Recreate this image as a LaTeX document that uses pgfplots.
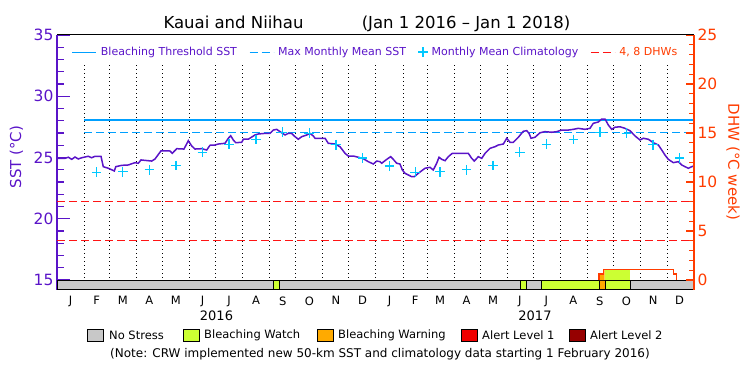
\documentclass[border=0pt]{standalone}
\usepackage{pgfplots}
\pgfplotsset{compat=1.18}
\usepackage{fontspec}
\setmainfont{DejaVu Sans}
\definecolor{sstpurple}{RGB}{90,20,200}
\definecolor{threshcol}{RGB}{0,160,255}
\definecolor{climcol}{RGB}{0,200,255}
\definecolor{dhwred}{RGB}{255,20,20}
\definecolor{dhworange}{RGB}{255,60,0}
\definecolor{nostress}{RGB}{200,200,200}
\definecolor{watchcol}{RGB}{204,255,51}
\definecolor{warncol}{RGB}{255,170,0}
\definecolor{alert1}{RGB}{240,0,0}
\definecolor{alert2}{RGB}{150,0,0}
\pgfplotsset{linelegend/.style={legend image code/.code={\draw[##1] (0pt,0pt) -- (24pt,0pt);}}}
\begin{document}
\begin{tikzpicture}[x=1pt,y=1pt]
\path[use as bounding box] (0,0) rectangle (750,375);
\begin{axis}[
  at={(57pt,85pt)}, anchor=south west,
  scale only axis, width=637pt, height=255pt,
  xmin=0, xmax=731, ymin=14.184, ymax=35,
  axis x line*=bottom, axis y line*=left,
  tick align=inside,
  xtick={15.5,45.5,75.5,106,136.5,167,197.5,228.5,259,289.5,320,350.5,381.5,411,439.5,470,500.5,531,561.5,592.5,623,653.5,684,714.5},
  xticklabels={J,F,M,A,M,J,J,A,S,O,N,D,J,F,M,A,M,J,J,A,S,O,N,D},
  x tick style={draw=none},
  xticklabel style={font=\fontsize{11.5}{13}\selectfont, black, yshift=-3pt},
  ytick={15,20,25,30,35}, minor y tick num=4,
  y tick style={sstpurple, line width=1.2pt},
  major tick length=13pt, minor tick length=6.5pt,
  yticklabel style={font=\fontsize{15.5}{17}\selectfont, text=sstpurple},
  /pgf/number format/assume math mode=true,
  y axis line style={sstpurple, line width=1.3pt},
  x axis line style={black, line width=1pt},
  legend columns=4,
  legend style={draw=none, fill=none, at={(0.5,1)}, anchor=north, yshift=-8pt,
    font=\fontsize{11}{13}\selectfont, text=sstpurple,
    /tikz/every even column/.append style={column sep=10pt},
    /tikz/every odd column/.append style={column sep=2pt}},
]
% month boundaries
\addplot[ycomb, black, line width=0.9pt, dash pattern=on 1pt off 3pt, mark=none, forget plot] coordinates {
(31,32.55) (60,32.55) (91,32.55) (121,32.55) (152,32.55) (182,32.55) (213,32.55) (244,32.55) (274,32.55) (305,32.55) (335,32.55)
(366,32.55) (397,32.55) (425,32.55) (456,32.55) (486,32.55) (517,32.55) (547,32.55) (578,32.55) (609,32.55) (639,32.55) (670,32.55) (700,32.55)};
% bleaching threshold
\addplot[threshcol, line width=1.2pt, linelegend] coordinates {(31,28.06) (731,28.06)};
\addlegendentry{Bleaching Threshold SST}
% MMM
\addplot[threshcol, line width=1.2pt, dash pattern=on 8pt off 4pt, linelegend] coordinates {(31,27.06) (731,27.06)};
\addlegendentry{Max Monthly Mean SST}
% climatology
\addplot[only marks, mark=+, mark size=4.8pt, climcol, line width=1.3pt] coordinates {
(45.5,23.80) (75.5,23.83) (106,24.00) (136.5,24.36) (167,25.43) (197.5,26.08) (228.5,26.48) (259,27.06) (289.5,26.98) (320,26.04) (350.5,24.95)
(381.5,24.31) (411,23.80) (439.5,23.83) (470,24.00) (500.5,24.36) (531,25.43) (561.5,26.08) (592.5,26.48) (623,27.06) (653.5,26.98) (684,26.04) (714.5,24.95)};
\addlegendentry{Monthly Mean Climatology}
% 4 and 8 DHW levels (SST-axis equivalents: 15 + 0.8*DHW)
\addplot[dhwred, line width=1.2pt, dash pattern=on 8pt off 4pt, linelegend] coordinates {(0,21.4) (731,21.4)};
\addlegendentry[text=dhworange]{4, 8 DHWs}
\addplot[dhwred, line width=1.2pt, dash pattern=on 8pt off 4pt, forget plot] coordinates {(0,18.2) (731,18.2)};
% SST
\addplot[sstpurple, line width=1.5pt, forget plot] coordinates {
(0,24.93) (9.2,24.93) (13.0,25.02) (16.9,24.85) (20.7,25.04) (24.4,24.88) (28.3,24.98) (35.9,25.10) (39.8,24.98) (43.6,25.10) (50.5,25.10) (53.1,24.25) (58.9,24.12) (65.8,23.90) (67.4,24.25) (74.2,24.36) (81.8,24.39) (89.5,24.58) (93.3,24.53) (96.4,24.80) (108.7,24.71) (112.5,24.88) (119.4,25.55) (129.7,25.53) (132.3,25.34) (137.4,25.72) (145.7,25.69) (150.7,26.37) (154.6,25.94) (158.4,25.69) (166.1,25.72) (171.8,25.61) (175.6,26.00) (181.3,26.02) (185.1,26.10) (192.8,26.16) (196.6,26.57) (199.3,26.78) (202.3,26.43) (205.1,26.21) (212.0,26.24) (213.8,26.49) (219.5,26.49) (227.2,26.84) (231.0,26.92) (238.7,26.97) (244.4,26.97) (248.2,27.24) (252.1,27.30) (255.9,27.11) (261.7,26.84) (265.4,26.97) (269.3,26.97) (273.1,26.70) (276.9,26.49) (280.8,26.70) (286.6,26.84) (290.3,26.97) (294.1,26.76) (296.1,26.57) (307.6,26.57) (311.3,26.16) (319.0,26.10) (324.8,25.88) (330.5,25.34) (334.3,25.12) (340.0,25.12) (345.8,25.02) (351.5,24.90) (357.2,24.66) (363.0,24.47) (366.9,24.71) (370.7,24.66) (372.6,24.53) (378.4,24.85) (382.9,25.07) (385.9,24.85) (389.8,24.53) (393.6,24.47) (396.3,23.98) (399.4,23.71) (407.1,23.43) (410.0,23.43) (414.6,23.71) (422.3,24.12) (428.0,24.20) (431.8,23.98) (435.7,24.53) (438.4,25.02) (441.5,24.85) (445.3,24.74) (449.1,25.07) (453.6,25.34) (472.0,25.34) (475.9,24.93) (478.9,24.71) (483.5,25.07) (487.4,24.93) (491.2,25.34) (496.9,25.75) (502.6,25.88) (506.4,26.02) (512.2,26.10) (516.1,26.57) (519.9,26.24) (523.6,26.24) (529.4,26.65) (535.1,27.14) (539.0,27.19) (541.7,26.97) (544.0,26.57) (548.5,26.65) (554.3,27.02) (560.0,27.11) (567.7,27.06) (573.5,27.11) (579.2,27.24) (586.8,27.24) (592.5,27.30) (598.2,27.38) (605.9,27.30) (611.6,27.38) (615.4,27.79) (621.2,27.90) (625.1,28.14) (628.9,28.14) (632.7,27.65) (636.6,27.30) (640.3,27.47) (646.1,27.51) (651.8,27.38) (657.5,27.19) (663.3,26.76) (669.0,26.43) (672.8,26.57) (678.6,26.49) (684.3,26.21) (690.1,26.02) (694.0,25.61) (697.7,25.20) (701.5,24.85) (707.3,24.58) (713.0,24.66) (716.9,24.39) (720.7,24.25) (724.5,24.12) (728.4,24.25) (731,24.31)};
% stress bar
\addplot[fill=nostress, draw=black, line width=1pt, forget plot] coordinates {(0,14.184) (0,15) (247.9,15) (247.9,14.184)} --cycle;
\addplot[fill=watchcol, draw=black, line width=1pt, forget plot] coordinates {(247.9,14.184) (247.9,15) (254.8,15) (254.8,14.184)} --cycle;
\addplot[fill=nostress, draw=black, line width=1pt, forget plot] coordinates {(254.8,14.184) (254.8,15) (532.1,15) (532.1,14.184)} --cycle;
\addplot[fill=watchcol, draw=black, line width=1pt, forget plot] coordinates {(532.1,14.184) (532.1,15) (539.0,15) (539.0,14.184)} --cycle;
\addplot[fill=nostress, draw=black, line width=1pt, forget plot] coordinates {(539.0,14.184) (539.0,15) (556.2,15) (556.2,14.184)} --cycle;
\addplot[fill=watchcol, draw=black, line width=1pt, forget plot] coordinates {(556.2,14.184) (556.2,15) (622.0,15) (622.0,14.184)} --cycle;
\addplot[fill=warncol, draw=black, line width=1pt, forget plot] coordinates {(622.0,14.184) (622.0,15) (628.9,15) (628.9,14.184)} --cycle;
\addplot[fill=watchcol, draw=black, line width=1pt, forget plot] coordinates {(628.9,14.184) (628.9,15) (657.9,15) (657.9,14.184)} --cycle;
\addplot[fill=nostress, draw=black, line width=1pt, forget plot] coordinates {(657.9,14.184) (657.9,15) (731,15) (731,14.184)} --cycle;
\end{axis}
\begin{axis}[
  at={(57pt,85pt)}, anchor=south west,
  scale only axis, width=637pt, height=255pt,
  xmin=0, xmax=731, ymin=-1.02, ymax=25,
  axis x line*=top, axis y line*=right,
  tick align=inside,
  xtick=\empty,
  ytick={0,5,10,15,20,25}, minor y tick num=4,
  y tick style={dhworange, line width=1.1pt},
  major tick length=8pt, minor tick length=5pt,
  yticklabel style={font=\fontsize{15.5}{17}\selectfont, text=dhworange},
  /pgf/number format/assume math mode=true,
  y axis line style={dhworange, line width=1.3pt},
  x axis line style={black, line width=1pt},
]
\addplot[fill=warncol, draw=none] coordinates {(622.0,0) (622.0,0.61) (626.9,0.61) (626.9,1.09) (628.5,1.09) (628.5,0)} --cycle;
\addplot[fill=watchcol, draw=none] coordinates {(628.5,0) (628.5,1.09) (657.5,1.09) (657.5,0)} --cycle;
\addplot[dhworange, line width=1.2pt] coordinates {(622.0,0) (622.0,0.61) (626.9,0.61) (626.9,1.09) (707.2,1.09) (707.2,0.61) (711.1,0.61) (711.1,0)};
\end{axis}
% year labels
\node[font=\fontsize{13}{15}\selectfont] at (216.5,59.5) {2016};
\node[font=\fontsize{13}{15}\selectfont] at (535,59.5) {2017};
% title
\node[font=\fontsize{16.5}{18}\selectfont, anchor=base] at (233.5,346) {Kauai and Niihau};
\node[font=\fontsize{16.5}{18}\selectfont, anchor=base] at (466,346) {(Jan 1 2016 – Jan 1 2018)};
% axis labels
\node[rotate=90, text=sstpurple, font=\fontsize{15}{17}\selectfont] at (16.5,218) {SST (°C)};
\node[rotate=-90, text=dhworange, font=\fontsize{15}{17}\selectfont] at (733,213) {DHW (°C week)};
% stress legend
\node[draw=black, line width=0.8pt, fill=nostress, minimum width=16pt, minimum height=12pt, inner sep=0pt] at (95,40) {};
\node[anchor=west, font=\fontsize{11.5}{13}\selectfont, inner sep=0pt] at (109,40) {No Stress};
\node[draw=black, line width=0.8pt, fill=watchcol, minimum width=16pt, minimum height=12pt, inner sep=0pt] at (191,40) {};
\node[anchor=west, font=\fontsize{11.5}{13}\selectfont, inner sep=0pt] at (204,40) {Bleaching Watch};
\node[draw=black, line width=0.8pt, fill=warncol, minimum width=16pt, minimum height=12pt, inner sep=0pt] at (325,40) {};
\node[anchor=west, font=\fontsize{11.5}{13}\selectfont, inner sep=0pt] at (338,40) {Bleaching Warning};
\node[draw=black, line width=0.8pt, fill=alert1, minimum width=16pt, minimum height=12pt, inner sep=0pt] at (469.5,40) {};
\node[anchor=west, font=\fontsize{11.5}{13}\selectfont, inner sep=0pt] at (482,40) {Alert Level 1};
\node[draw=black, line width=0.8pt, fill=alert2, minimum width=16pt, minimum height=12pt, inner sep=0pt] at (577.5,40) {};
\node[anchor=west, font=\fontsize{11.5}{13}\selectfont, inner sep=0pt] at (590,40) {Alert Level 2};
% note
\node[font=\fontsize{12}{14}\selectfont] at (380,21) {(Note: CRW implemented new 50-km SST and climatology data starting 1 February 2016)};
\end{tikzpicture}
\end{document}
